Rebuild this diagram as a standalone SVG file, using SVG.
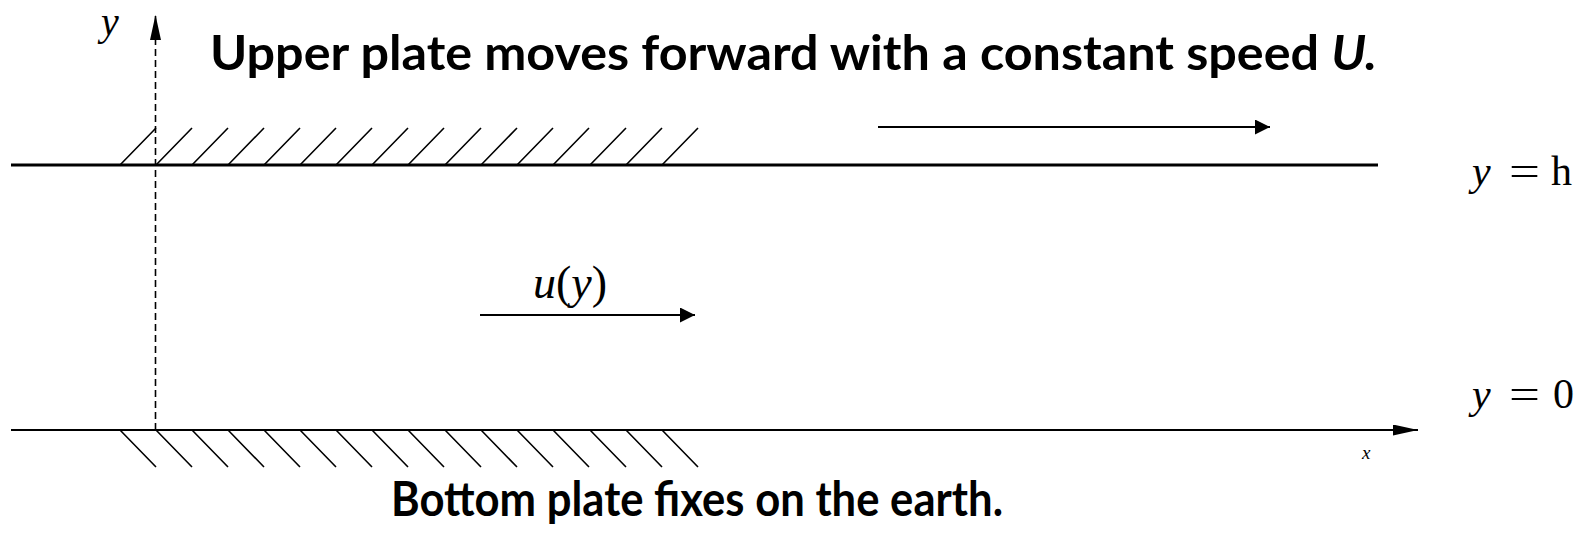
<svg xmlns="http://www.w3.org/2000/svg" width="1576" height="533" viewBox="0 0 1576 533">
<style>
.plate{stroke:#000;stroke-width:3;fill:none}
.axis{stroke:#000;stroke-width:2;fill:none}
.hatch{stroke:#000;stroke-width:1.6;fill:none}
.dash{stroke:#000;stroke-width:1.6;stroke-dasharray:7 4;fill:none}
.arr{stroke:#000;stroke-width:2;fill:none}
.title{font-family:Lato,"Open Sans",sans-serif;font-weight:700;font-size:47px;fill:#000}
.math{font-family:"Liberation Serif",serif;fill:#000}
.it{font-style:italic}
</style>
<defs>
<marker id="ah" markerUnits="userSpaceOnUse" markerWidth="16" markerHeight="16" refX="15" refY="7.5" orient="auto">
<path d="M0,0 L15,7.5 L0,15 Z" fill="#000"/>
</marker>
<marker id="axh" markerUnits="userSpaceOnUse" markerWidth="26" markerHeight="12" refX="25" refY="5.5" orient="auto">
<path d="M0,0 L25,5.5 L0,11 Z" fill="#000"/>
</marker>
</defs>
<g id="upper-plate">
<line class="plate" x1="11" y1="165" x2="1378" y2="165"/>
<path class="hatch" d="M120,165 L156,128 M156,165 L192,128 M192,165 L228,128 M228,165 L264,128 M264,165 L300,128 M300,165 L336,128 M336,165 L372,128 M372,165 L408,128 M408,165 L444,128 M445,165 L481,128 M481,165 L517,128 M517,165 L553,128 M553,165 L589,128 M590,165 L626,128 M626,165 L662,128 M662,165 L698,128"/>
</g>
<g id="bottom-plate">
<path class="hatch" d="M120,430 L156,467 M156,430 L192,467 M192,430 L228,467 M228,430 L264,467 M264,430 L300,467 M300,430 L336,467 M336,430 L372,467 M372,430 L408,467 M408,430 L444,467 M445,430 L481,467 M481,430 L517,467 M517,430 L553,467 M553,430 L589,467 M590,430 L626,467 M626,430 L662,467 M662,430 L698,467"/>
</g>
<g id="connectors">
<line class="axis" x1="11" y1="430" x2="1418" y2="430" marker-end="url(#axh)"/>
<line class="dash" x1="155.5" y1="430" x2="155.5" y2="15" marker-end="url(#axh)"/>
<line class="arr" x1="878" y1="127" x2="1270" y2="127" marker-end="url(#ah)"/>
<line class="arr" x1="480" y1="315" x2="695" y2="315" marker-end="url(#ah)"/>
</g>
<g id="labels">
<text class="title" x="210" y="70" textLength="1167" lengthAdjust="spacingAndGlyphs">Upper plate moves forward with a constant speed <tspan font-style="italic">U.</tspan></text>
<text class="title" x="391" y="516" textLength="612" lengthAdjust="spacingAndGlyphs">Bottom plate fixes on the earth.</text>
<text class="math it" x="101" y="35" font-size="40">y</text>
<text class="math" x="533" y="298" font-size="46"><tspan class="it">u</tspan>(<tspan class="it">y</tspan>)</text>
<text class="math" font-size="42" x="1472" y="185"><tspan class="it">y</tspan></text>
<text class="math" font-size="42" x="1509" y="185" textLength="31" lengthAdjust="spacingAndGlyphs">=</text>
<text class="math" font-size="42" x="1551" y="185">h</text>
<text class="math" font-size="42" x="1472" y="408"><tspan class="it">y</tspan></text>
<text class="math" font-size="42" x="1509" y="408" textLength="31" lengthAdjust="spacingAndGlyphs">=</text>
<text class="math" font-size="42" x="1553" y="408">0</text>
<text class="math it" x="1362" y="459" font-size="19">x</text>
</g>
</svg>
